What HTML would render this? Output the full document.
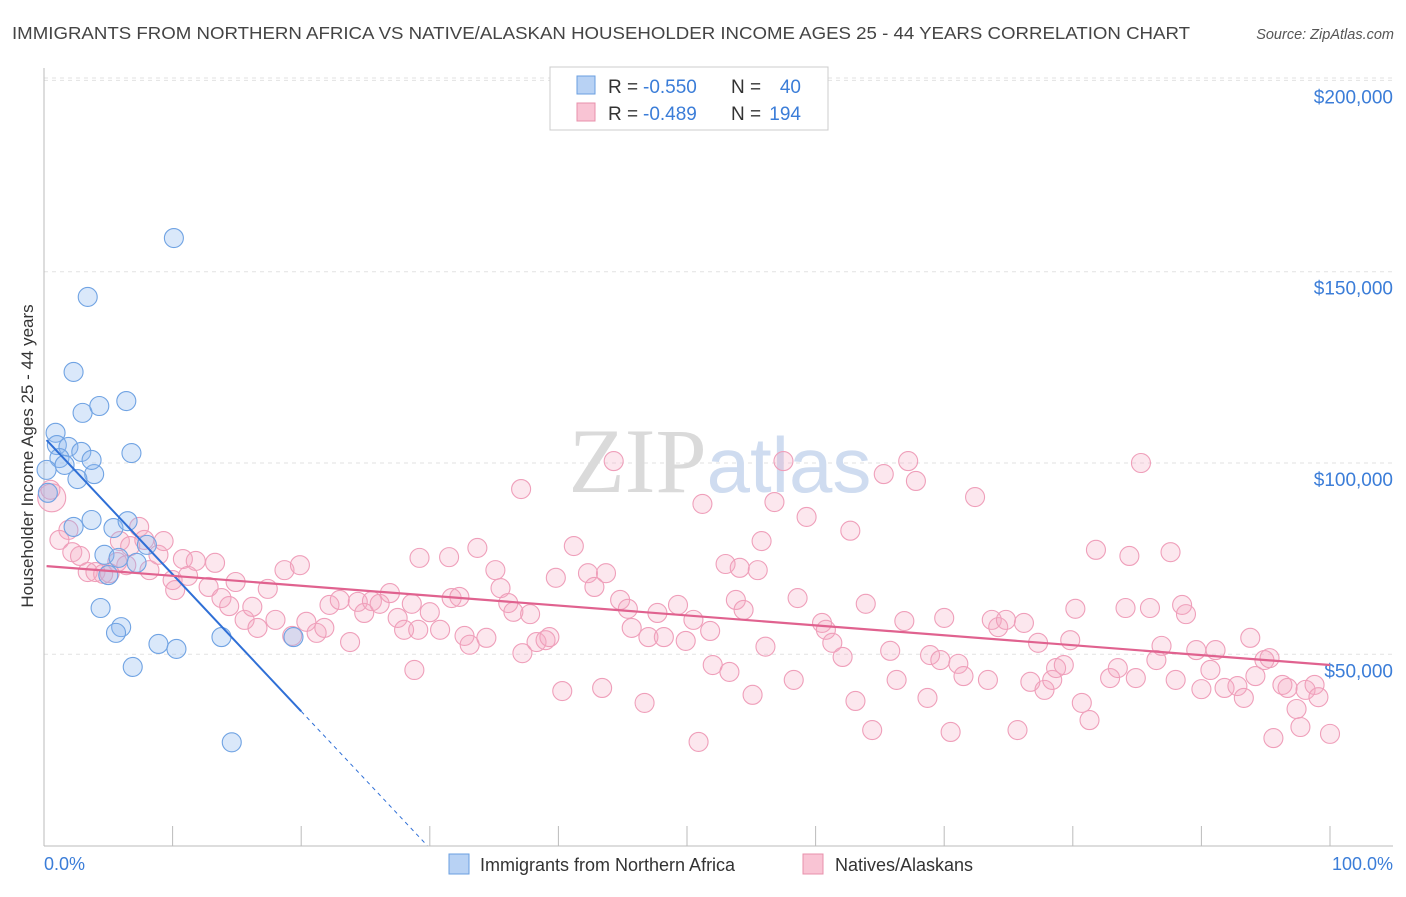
<!DOCTYPE html>
<html><head><meta charset="utf-8"><style>
body{margin:0;background:#fff;font-family:"Liberation Sans",sans-serif;}
svg text{font-family:"Liberation Sans",sans-serif;}
</style></head><body>
<svg id="chart" width="1406" height="892" xmlns="http://www.w3.org/2000/svg">
<text x="12" y="39" font-size="17.5" fill="#444" textLength="1178" lengthAdjust="spacingAndGlyphs">IMMIGRANTS FROM NORTHERN AFRICA VS NATIVE/ALASKAN HOUSEHOLDER INCOME AGES 25 - 44 YEARS CORRELATION CHART</text>
<text x="1394" y="39" font-size="14.5" fill="#555" text-anchor="end" font-style="italic">Source: ZipAtlas.com</text>
<g id="grid"></g>
<g id="axes"></g>
<text x="720" y="492" font-size="92" fill="#ddd" text-anchor="middle" font-family="Liberation Serif"><tspan fill="#dadada" font-family="Liberation Serif">ZIP</tspan><tspan fill="#cfdcf0" font-family="Liberation Sans" font-size="78">atlas</tspan></text>
<g id="pink"></g>
<g id="blue"></g>
<g id="lines"></g>
<text transform="translate(33,456) rotate(-90)" font-size="17" fill="#333" text-anchor="middle">Householder Income Ages 25 - 44 years</text>
<g>
<rect x="550" y="67" width="278" height="63" fill="#fff" stroke="#ccc"/>
<rect x="577" y="76" width="18" height="18" fill="#b8d2f4" stroke="#6a9fe0"/>
<rect x="577" y="103" width="18" height="18" fill="#f9c4d4" stroke="#e890ab"/>
<text x="608" y="93" font-size="19" fill="#333">R =</text>
<text x="643" y="93" font-size="19" fill="#3b7dd8">-0.550</text>
<text x="731" y="93" font-size="19" fill="#333">N =</text>
<text x="801" y="93" font-size="19" fill="#3b7dd8" text-anchor="end">40</text>
<text x="608" y="120" font-size="19" fill="#333">R =</text>
<text x="643" y="120" font-size="19" fill="#3b7dd8">-0.489</text>
<text x="731" y="120" font-size="19" fill="#333">N =</text>
<text x="801" y="120" font-size="19" fill="#3b7dd8" text-anchor="end">194</text>
</g>
<g>
<rect x="449" y="854" width="20" height="20" fill="#b8d2f4" stroke="#6a9fe0"/>
<text x="480" y="871" font-size="18" fill="#333">Immigrants from Northern Africa</text>
<rect x="803" y="854" width="20" height="20" fill="#f9c4d4" stroke="#e890ab"/>
<text x="835" y="871" font-size="18" fill="#333">Natives/Alaskans</text>
</g>
<text x="44" y="870" font-size="18" fill="#3b7dd8">0.0%</text>
<text x="1393" y="870" font-size="18" fill="#3b7dd8" text-anchor="end">100.0%</text>
</svg>
<script>
const yTicks=[50,100,150,200];
const yTickLabels=["$50,000","$100,000","$150,000","$200,000"];
const xTicks=[0,10,20,30,40,50,60,70,80,90,100];
const blueX=[3.4,10.1,2.3,3.0,4.3,6.4,0.9,1.0,1.9,2.9,1.2,1.6,3.9,2.6,6.8,0.2,0.3,2.3,3.7,5.4,6.5,8.0,4.7,5.8,7.2,5.0,4.4,6.0,5.6,6.9,8.9,10.3,13.8,19.4,14.6,3.7];
const blueY=[143.4,158.8,123.8,113.1,114.9,116.2,107.9,104.7,104.2,102.9,101.3,99.5,97.1,95.8,102.6,98.2,92.2,83.3,85.1,83.0,84.8,78.6,76.0,75.2,73.9,70.7,62.1,57.1,55.6,46.7,52.7,51.4,54.5,54.5,27.0,100.8];
const pinkX=[0.6,0.5,1.9,1.2,2.2,2.8,3.4,4.0,4.6,5.1,5.7,6.4,7.4,5.9,6.7,7.8,8.2,8.9,9.3,10.0,10.2,10.8,11.8,11.2,12.8,13.3,13.8,14.4,14.9,15.6,16.2,16.6,17.4,18.0,18.7,19.3,19.9,20.4,21.2,21.8,22.2,23.0,23.8,24.4,24.9,25.5,26.1,26.9,27.5,28.0,28.6,28.8,29.1,29.2,30.0,30.8,31.5,31.7,32.3,32.7,33.1,33.7,34.4,35.1,35.5,36.1,36.5,37.1,37.2,37.8,38.3,39.0,39.3,39.8,40.3,41.2,42.3,42.8,43.4,43.7,44.3,44.8,45.4,45.7,46.7,47.0,47.7,48.2,49.3,49.9,50.5,50.9,51.2,51.8,52.0,53.0,53.3,53.8,54.1,54.4,55.1,55.5,55.8,56.1,56.8,57.5,58.3,58.6,59.3,60.5,60.8,61.3,62.1,62.7,63.1,63.9,64.4,65.3,65.8,66.3,66.9,67.2,67.8,68.7,68.9,69.7,70.0,70.5,71.1,71.5,72.4,73.4,73.7,74.2,74.8,75.7,76.2,76.7,77.3,77.8,78.4,78.7,79.3,79.8,80.2,80.7,81.3,81.8,82.9,83.5,84.1,84.4,84.9,85.3,86.0,86.5,86.9,87.6,88.0,88.5,88.8,89.6,90.0,90.7,91.1,91.8,92.8,93.3,93.8,94.2,94.9,95.3,95.6,96.3,96.7,97.4,97.7,98.1,98.8,99.1,100.0];
const pinkY=[90.9,93.0,82.5,79.9,76.7,75.7,71.5,71.5,71.0,71.2,74.1,73.3,83.3,79.6,78.3,79.9,72.0,76.0,79.6,69.4,66.8,74.9,74.4,70.5,67.6,73.9,64.7,62.6,68.9,59.0,62.4,56.9,67.1,59.0,72.0,54.8,73.3,58.5,55.6,56.9,62.9,64.2,53.2,63.7,60.8,63.9,63.2,66.0,59.5,56.4,63.2,45.9,56.4,75.2,61.0,56.4,75.4,64.7,65.0,54.8,52.5,77.8,54.3,72.0,67.3,63.4,61.1,93.2,50.3,60.5,53.2,53.7,54.5,70.0,40.4,78.3,71.2,67.6,41.2,71.2,100.5,64.2,61.9,56.9,37.3,54.5,60.8,54.5,62.9,53.5,59.0,27.1,89.3,56.1,47.2,73.6,45.4,64.2,72.6,61.6,39.4,72.0,79.6,52.0,89.8,100.5,43.3,64.7,85.9,58.2,56.4,53.0,49.3,82.3,37.8,63.2,30.2,97.1,50.9,43.3,58.7,100.5,95.3,38.6,49.8,48.5,59.5,29.7,47.5,44.3,91.1,43.3,59.0,57.1,59.0,30.2,58.2,42.8,53.0,40.7,43.3,46.4,47.2,53.7,61.9,37.3,32.8,77.3,43.8,46.4,62.1,75.7,43.8,100.0,62.1,48.5,52.2,76.7,43.3,62.9,60.5,51.1,40.9,45.9,51.1,41.2,41.7,38.6,54.3,44.3,48.5,49.0,28.1,42.0,41.2,35.7,31.0,40.7,42.0,38.8,29.2];
const blueTrend=[106.7,-3.58];
const pinkTrend=[73.1,-0.259];
const NS='http://www.w3.org/2000/svg';
const sx=v=>44+v*12.86;
const sy=v=>845.6-v*3.826;
function mk(tag,attrs,parent){const e=document.createElementNS(NS,tag);for(const k in attrs)e.setAttribute(k,attrs[k]);parent.appendChild(e);return e;}
const grid=document.getElementById('grid'),axes=document.getElementById('axes');
yTicks.forEach((t,i)=>{
 const l=mk('line',{x1:44,x2:1393,y1:sy(t),y2:sy(t),stroke:'#e2e2e2','stroke-dasharray':'4,4'},grid);
 
 
 const tx=mk('text',{x:1393,y:sy(t)+23,'font-size':19,fill:'#3b7dd8','text-anchor':'end'},axes);
 tx.textContent=yTickLabels[i];
 
 
});
const topG=mk('line',{x1:44,x2:1393,y1:78,y2:78,stroke:'#e2e2e2','stroke-dasharray':'4,4'},grid);


const ya=mk('line',{x1:44,x2:44,y1:68,y2:846,stroke:'#bbb'},axes);


const xa=mk('line',{x1:44,x2:1393,y1:846,y2:846,stroke:'#bbb'},axes);


xTicks.forEach(t=>{
 const l=mk('line',{x1:sx(t),x2:sx(t),y1:826,y2:846,stroke:'#bbb'},axes);
 
 
});
const pink=document.getElementById('pink'),blue=document.getElementById('blue');
pinkX.forEach((x,i)=>{
 const c=mk('circle',{cx:sx(x),cy:sy(pinkY[i]),r:i<1?14:9.5,fill:'rgba(246,170,195,0.28)',stroke:'#ef9fba','stroke-width':1.1},pink);
 
 
});
blueX.forEach((x,i)=>{
 const c=mk('circle',{cx:sx(x),cy:sy(blueY[i]),r:9.5,fill:'rgba(140,185,240,0.32)',stroke:'#70a3e3','stroke-width':1.1},blue);
 
 
});
const lines=document.getElementById('lines');
const bAt=x=>blueTrend[0]+blueTrend[1]*x, pAt=x=>pinkTrend[0]+pinkTrend[1]*x;
const bl=mk('line',{x1:sx(0.2),y1:sy(bAt(0.2)),x2:sx(20),y2:sy(bAt(20)),stroke:'#2f6fd6','stroke-width':2},lines);


const x0=-blueTrend[0]/blueTrend[1];
const bd=mk('line',{x1:sx(20),y1:sy(bAt(20)),x2:sx(x0),y2:sy(0),stroke:'#2f6fd6','stroke-width':1,'stroke-dasharray':'4,4'},lines);


const pl=mk('line',{x1:sx(0.2),y1:sy(pAt(0.2)),x2:sx(100),y2:sy(pAt(100)),stroke:'#e0628f','stroke-width':2.2},lines);


</script>
</body></html>
